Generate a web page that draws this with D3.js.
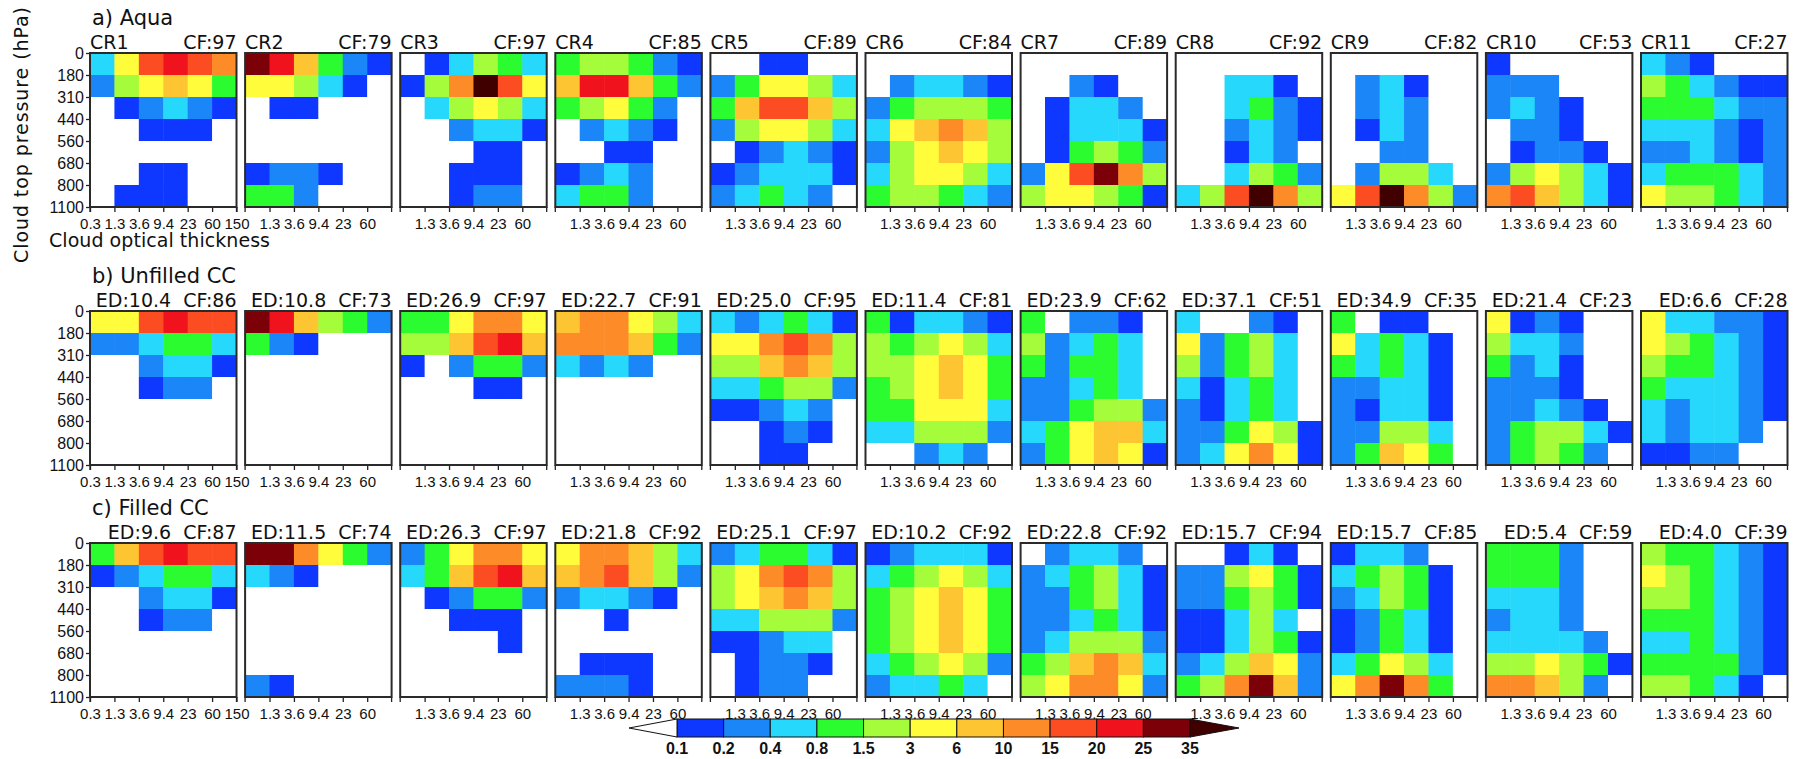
<!DOCTYPE html>
<html>
<head>
<meta charset="utf-8">
<script src="https://cdn.jsdelivr.net/npm/d3@7"></script>
<style>
  body { margin: 0; background: #fff; }
  text { font-family: "DejaVu Sans", sans-serif; fill: #111; }
  .xax .tick text { font-family: "Liberation Sans", sans-serif; font-size: 15px; }
  .yax .tick text { font-family: "Liberation Sans", sans-serif; font-size: 16px; }
</style>
</head>
<body>
<svg id="chart" width="1798" height="759"></svg>
<script>
// histogram bins
const tauLabels = ["0.3", "1.3", "3.6", "9.4", "23", "60", "150"];
const presLabels = ["0", "180", "310", "440", "560", "680", "800", "1100"];

// colour levels (%)
const levels = [0.1, 0.2, 0.4, 0.8, 1.5, 3, 6, 10, 15, 20, 25, 35];
const levelColors = ["#ffffff", "#0e37ff", "#1a86f7", "#26d9fc", "#2bfc2f", "#a4fc3b", "#fffc3c",
                     "#fec532", "#fd8b28", "#fb4c22", "#f0131d", "#7c0008", "#410000"];

// row a) Aqua : CR1..CR11, each 7 pressure rows (top to bottom) x 6 tau bins
const aquaCF = [97, 79, 97, 85, 89, 84, 89, 92, 82, 53, 27];
const aqua = [
  [[0.6,4,17,22,17,12],[0.3,2,4,8,4,1.1],[0,0.15,0.3,0.6,0.3,0.15],[0,0,0.15,0.15,0.15,0],[0,0,0,0,0,0],[0,0,0.15,0.15,0,0],[0,0.15,0.15,0.15,0,0]],
  [[30,22,8,1.1,0.3,0.15],[4,4,2,0.6,0.15,0],[0,0.15,0.15,0,0,0],[0,0,0,0,0,0],[0,0,0,0,0,0],[0.15,0.3,0.3,0.15,0,0],[1.1,1.1,0.3,0,0,0]],
  [[0,0.15,0.6,2,1.1,0.6],[0.15,2,12,40,17,4],[0,0.6,2,4,2,0.6],[0,0,0.3,0.6,0.6,0.15],[0,0,0,0.15,0.15,0],[0,0,0.15,0.15,0.15,0],[0,0,0.15,0.3,0.3,0]],
  [[1.1,2,2,1.1,0.3,0.15],[8,22,22,8,1.1,0.3],[1.1,2,4,1.1,0.3,0],[0,0.3,0.6,0.3,0.15,0],[0,0,0.15,0.15,0,0],[0.15,0.3,0.6,0.3,0,0],[0.6,1.1,1.1,0.3,0,0]],
  [[0,0,0.15,0.15,0,0],[0.3,1.1,4,4,2,0.6],[1.1,8,17,17,8,2],[0.3,2,4,4,2,0.6],[0,0.15,0.3,0.6,0.3,0.15],[0.15,0.3,0.6,0.6,0.6,0.15],[0.3,0.6,1.1,0.6,0.3,0]],
  [[0,0,0,0,0,0],[0,0.3,0.6,0.6,0.3,0.15],[0.3,1.1,2,2,2,1.1],[0.6,4,8,12,8,2],[0.3,2,4,8,4,2],[0.6,2,4,4,2,0.6],[1.1,2,2,1.1,0.6,0.3]],
  [[0,0,0,0,0,0],[0,0,0.3,0.15,0,0],[0,0.15,0.6,0.6,0.3,0],[0,0.15,0.6,0.6,0.6,0.15],[0,0.15,1.1,2,1.1,0.3],[0.3,4,17,30,12,2],[2,4,4,2,1.1,0.15]],
  [[0,0,0,0,0,0],[0,0,0.6,0.6,0.15,0],[0,0,0.6,1.1,0.3,0.15],[0,0,0.3,0.6,0.3,0.15],[0,0,0.15,0.6,0.3,0],[0,0,0.6,2,1.1,0.3],[0.6,2,17,40,12,2]],
  [[0,0,0,0,0,0],[0,0.3,0.6,0.15,0,0],[0,0.3,0.6,0.3,0,0],[0,0.15,0.6,0.3,0,0],[0,0,0.3,0.3,0,0],[0,0.3,2,2,0.6,0],[4,17,40,12,2,0.3]],
  [[0.15,0,0,0,0,0],[0.3,0.3,0.3,0,0,0],[0.3,0.6,0.3,0.15,0,0],[0,0.3,0.3,0.15,0,0],[0,0.15,0.3,0.3,0.15,0],[0.3,2,4,2,0.6,0.15],[12,17,8,2,0.6,0.15]],
  [[0.6,0.3,0.15,0,0,0],[2,1.1,0.6,0.3,0.15,0.15],[1.1,1.1,1.1,0.6,0.3,0.3],[0.6,0.6,0.6,0.3,0.15,0.3],[0.3,0.3,0.6,0.3,0.15,0.3],[0.6,1.1,1.1,1.1,0.6,0.3],[4,2,2,1.1,0.6,0.3]]
];

// row b) Unfilled CC
const unfilledED = [10.4, 10.8, 26.9, 22.7, 25.0, 11.4, 23.9, 37.1, 34.9, 21.4, 6.6];
const unfilledCF = [86, 73, 97, 91, 95, 81, 62, 51, 35, 23, 28];
const unfilled = [
  [[4,4,17,22,17,17],[0.3,0.3,0.6,1.1,1.1,0.6],[0,0,0.3,0.6,0.6,0.15],[0,0,0.15,0.3,0.3,0],[0,0,0,0,0,0],[0,0,0,0,0,0],[0,0,0,0,0,0]],
  [[30,22,8,2,1.1,0.3],[1.1,0.3,0.15,0,0,0],[0,0,0,0,0,0],[0,0,0,0,0,0],[0,0,0,0,0,0],[0,0,0,0,0,0],[0,0,0,0,0,0]],
  [[1.1,1.1,4,12,12,4],[2,2,8,17,22,8],[0.15,0,0.3,1.1,1.1,0.3],[0,0,0,0.15,0.15,0],[0,0,0,0,0,0],[0,0,0,0,0,0],[0,0,0,0,0,0]],
  [[8,12,12,4,2,0.6],[12,12,12,8,1.1,0.3],[0.6,0.3,0.6,0.3,0,0],[0,0,0,0,0,0],[0,0,0,0,0,0],[0,0,0,0,0,0],[0,0,0,0,0,0]],
  [[0.6,0.3,0.6,1.1,0.6,0.15],[4,4,12,17,12,2],[2,2,8,12,8,2],[0.6,0.6,1.1,2,2,0.3],[0.15,0.15,0.3,0.6,0.3,0],[0,0,0.15,0.3,0.15,0],[0,0,0.15,0.15,0,0]],
  [[1.1,0.15,0.6,0.6,0.3,0.15],[2,1.1,2,4,2,0.6],[2,2,4,8,4,1.1],[1.1,2,4,8,4,1.1],[1.1,1.1,4,4,4,0.6],[0.6,0.6,2,2,2,0.3],[0,0,0.3,0.6,0.3,0]],
  [[1.1,0,0.3,0.3,0.15,0],[2,0.3,0.6,1.1,0.6,0],[1.1,0.3,1.1,1.1,0.6,0],[0.3,0.3,0.6,1.1,0.6,0],[0.3,0.3,1.1,2,2,0.3],[0.6,1.1,4,8,8,0.6],[0.3,1.1,4,8,4,0.15]],
  [[0.6,0,0,0.3,0.15,0],[4,0.3,1.1,2,0.6,0],[2,0.3,1.1,2,0.6,0],[0.6,0.15,0.6,1.1,0.6,0],[0.3,0.15,0.6,1.1,0.6,0],[0.3,0.3,1.1,4,2,0.15],[0.3,0.6,4,12,4,0.15]],
  [[1.1,0,0.15,0.15,0,0],[4,0.6,1.1,0.6,0.15,0],[1.1,0.6,1.1,0.6,0.15,0],[0.3,0.3,0.6,0.6,0.15,0],[0.3,0.15,0.6,0.6,0.15,0],[0.3,0.3,2,2,0.6,0],[0.3,1.1,8,4,1.1,0]],
  [[4,0.15,0.3,0.15,0,0],[2,0.6,0.6,0.3,0,0],[1.1,0.3,0.6,0.15,0,0],[0.3,0.3,0.3,0.15,0,0],[0.3,0.3,0.6,0.3,0.15,0],[0.3,1.1,2,2,0.6,0.15],[0.3,1.1,2,1.1,0.3,0]],
  [[4,0.6,0.6,0.3,0.3,0.15],[4,2,1.1,0.6,0.3,0.15],[2,1.1,1.1,0.6,0.3,0.15],[1.1,0.6,0.6,0.6,0.3,0.15],[0.6,0.3,0.6,0.6,0.3,0.15],[0.6,0.3,0.6,0.6,0.3,0],[0.15,0.15,0.3,0.3,0,0]]
];

// row c) Filled CC
const filledED = [9.6, 11.5, 26.3, 21.8, 25.1, 10.2, 22.8, 15.7, 15.7, 5.4, 4.0];
const filledCF = [87, 74, 97, 92, 97, 92, 92, 94, 85, 59, 39];
const filled = [
  [[1.1,8,17,22,17,17],[0.15,0.3,0.6,1.1,1.1,0.6],[0,0,0.3,0.6,0.6,0.15],[0,0,0.15,0.3,0.3,0],[0,0,0,0,0,0],[0,0,0,0,0,0],[0,0,0,0,0,0]],
  [[30,30,12,4,1.1,0.3],[0.6,0.3,0.15,0,0,0],[0,0,0,0,0,0],[0,0,0,0,0,0],[0,0,0,0,0,0],[0,0,0,0,0,0],[0.3,0.15,0,0,0,0]],
  [[0.3,1.1,4,12,12,4],[0.6,1.1,8,17,22,8],[0,0.15,0.3,1.1,1.1,0.3],[0,0,0.15,0.15,0.15,0],[0,0,0,0,0.15,0],[0,0,0,0,0,0],[0,0,0,0,0,0]],
  [[4,12,12,8,2,0.6],[8,12,17,8,2,0.3],[0.3,0.6,0.6,0.3,0.15,0],[0,0,0.15,0,0,0],[0,0,0,0,0,0],[0,0.15,0.15,0.15,0,0],[0.3,0.3,0.3,0.15,0,0]],
  [[0.3,0.6,1.1,1.1,0.6,0.15],[2,4,12,17,12,2],[2,4,8,12,8,2],[0.6,0.6,2,2,2,0.3],[0.15,0.15,0.3,0.6,0.6,0],[0,0.15,0.3,0.3,0.15,0],[0,0.15,0.3,0.3,0,0]],
  [[0.15,0.3,0.6,0.6,0.6,0.15],[0.6,1.1,2,4,2,0.6],[1.1,2,4,8,4,1.1],[1.1,2,4,8,4,1.1],[1.1,2,4,8,4,1.1],[0.6,1.1,2,4,2,0.3],[0.3,0.6,0.6,1.1,0.6,0]],
  [[0,0.3,0.6,0.6,0.3,0],[0.3,0.6,1.1,2,0.6,0.15],[0.3,0.3,1.1,2,0.6,0.15],[0.3,0.3,0.6,1.1,0.6,0.15],[0.3,0.6,2,2,2,0.3],[1.1,2,8,12,8,0.6],[2,4,12,12,4,0.3]],
  [[0,0,0.15,0.6,0.15,0],[0.3,0.3,2,4,1.1,0.15],[0.3,0.3,1.1,2,1.1,0.15],[0.15,0.15,0.6,2,0.6,0],[0.15,0.15,0.6,2,1.1,0.15],[0.3,0.6,2,8,4,0.3],[1.1,2,12,30,8,0.3]],
  [[0.15,0.6,0.6,0.3,0,0],[0.6,1.1,2,1.1,0.15,0],[0.3,0.6,2,1.1,0.15,0],[0.15,0.3,1.1,0.6,0.15,0],[0.15,0.3,1.1,0.6,0.15,0],[0.6,1.1,4,2,0.6,0],[4,12,30,12,1.1,0]],
  [[1.1,1.1,1.1,0.3,0,0],[1.1,1.1,1.1,0.3,0,0],[0.6,0.6,0.6,0.3,0,0],[0.3,0.6,0.6,0.3,0,0],[0.6,0.6,0.6,0.6,0.3,0],[2,2,4,2,1.1,0.15],[12,12,8,2,0.3,0]],
  [[2,1.1,1.1,0.6,0.3,0.15],[4,2,1.1,0.6,0.3,0.15],[2,2,1.1,0.6,0.3,0.15],[1.1,1.1,1.1,0.6,0.3,0.15],[0.6,0.6,1.1,0.6,0.3,0.15],[1.1,1.1,1.1,1.1,0.3,0.15],[2,2,1.1,0.6,0.15,0]]
];


const svg = d3.select("#chart");
const color = d3.scaleThreshold().domain(levels).range(levelColors);

const panelW = 146.5, panelH = 154;
const panelX = d3.scaleLinear().domain([0, 10]).range([90, 1641]);

const xCell = d3.scaleBand().domain(d3.range(6)).range([0, panelW]);
const yCell = d3.scaleBand().domain(d3.range(7)).range([0, panelH]);
const xEdge = d3.scaleLinear().domain([0, 6]).range([0, panelW]);
const yEdge = d3.scaleLinear().domain([0, 7]).range([0, panelH]);

const rows = [
  { title: "a) Aqua", top: 53, data: aqua,
    left: (i) => "CR" + (i + 1), right: (i) => "CF:" + aquaCF[i] },
  { title: "b) Unfilled CC", top: 311, data: unfilled,
    left: () => "", right: (i) => "ED:" + unfilledED[i].toFixed(1) + "  CF:" + unfilledCF[i] },
  { title: "c) Filled CC", top: 543, data: filled,
    left: () => "", right: (i) => "ED:" + filledED[i].toFixed(1) + "  CF:" + filledCF[i] }
];

rows.forEach(row => {
  svg.append("text")
    .attr("x", 92)
    .attr("y", row.top - 28)
    .attr("font-size", "21px")
    .text(row.title);

  row.data.forEach((panel, i) => {
    const g = svg.append("g")
      .attr("transform", `translate(${panelX(i)},${row.top})`);

    const cells = [];
    panel.forEach((r, ri) => r.forEach((v, ci) => cells.push({ r: ri, c: ci, v: v })));

    g.selectAll("rect.cell")
      .data(cells)
      .enter()
      .append("rect")
        .attr("class", "cell")
        .attr("x", d => xCell(d.c))
        .attr("y", d => yCell(d.r))
        .attr("width", xCell.bandwidth() + 0.5)
        .attr("height", yCell.bandwidth() + 0.5)
        .attr("fill", d => color(d.v));

    // bottom axis
    const xAxis = d3.axisBottom(xEdge)
      .tickValues(i == 0 ? d3.range(7) : d3.range(1, 6))
      .tickFormat(d => tauLabels[d])
      .tickSizeInner(5)
      .tickSizeOuter(0);
    const xa = g.append("g")
      .attr("class", "xax")
      .attr("transform", `translate(0,${panelH})`)
      .call(xAxis);
    xa.select(".domain").remove();
    xa.selectAll("line").attr("stroke", "#222").attr("stroke-width", 1.3);
    xa.selectAll("text").attr("dy", "0.9em");

    // end ticks without labels
    g.selectAll("line.endtick")
      .data([0, 6])
      .enter()
      .append("line")
        .attr("x1", d => xEdge(d)).attr("x2", d => xEdge(d))
        .attr("y1", panelH).attr("y2", panelH + 5)
        .attr("stroke", "#222").attr("stroke-width", 1.3);

    if (i == 0) {
      const yAxis = d3.axisLeft(yEdge)
        .tickValues(d3.range(8))
        .tickFormat(d => presLabels[d])
        .tickSizeInner(4)
        .tickSizeOuter(0);
      const ya = g.append("g").attr("class", "yax").call(yAxis);
      ya.select(".domain").remove();
      ya.selectAll("line").attr("stroke", "#222").attr("stroke-width", 1.3);
      ya.selectAll("text").attr("x", -6);
    }

    g.append("rect")
      .attr("width", panelW)
      .attr("height", panelH)
      .attr("fill", "none")
      .attr("stroke", "#2a2a2a")
      .attr("stroke-width", 2);

    g.append("text")
      .attr("x", 0)
      .attr("y", -4)
      .attr("font-size", "19px")
      .text(row.left(i));

    g.append("text")
      .attr("x", panelW)
      .attr("y", -4)
      .attr("text-anchor", "end")
      .attr("font-size", "19px")
      .style("white-space", "pre")
      .text(row.right(i));
  });
});

// axis titles
svg.append("text")
  .attr("transform", "translate(28,135) rotate(-90)")
  .attr("text-anchor", "middle")
  .attr("font-size", "19px")
  .attr("textLength", 256)
  .attr("lengthAdjust", "spacing")
  .text("Cloud top pressure (hPa)");

svg.append("text")
  .attr("x", 49)
  .attr("y", 247)
  .attr("font-size", "19px")
  .attr("textLength", 221)
  .attr("lengthAdjust", "spacing")
  .text("Cloud optical thickness");

// colour bar
const cbX = d3.scaleLinear().domain([0, levels.length - 1]).range([677, 1190]);
const cbTop = 719, cbH = 18;
const cb = svg.append("g");

cb.selectAll("rect")
  .data(d3.range(levels.length - 1))
  .enter()
  .append("rect")
    .attr("x", d => cbX(d))
    .attr("y", cbTop)
    .attr("width", d => cbX(d + 1) - cbX(d))
    .attr("height", cbH)
    .attr("fill", d => color((levels[d] + levels[d + 1]) / 2))
    .attr("stroke", "#111")
    .attr("stroke-width", 1);

cb.append("path")
  .attr("d", `M${cbX(0)},${cbTop} L629,${cbTop + cbH / 2} L${cbX(0)},${cbTop + cbH} Z`)
  .attr("fill", color(0))
  .attr("stroke", "#111");

cb.append("path")
  .attr("d", `M${cbX(11)},${cbTop} L1239,${cbTop + cbH / 2} L${cbX(11)},${cbTop + cbH} Z`)
  .attr("fill", color(50))
  .attr("stroke", "#111");

cb.selectAll("text")
  .data(levels)
  .enter()
  .append("text")
    .attr("x", (d, i) => cbX(i))
    .attr("y", 754)
    .attr("text-anchor", "middle")
    .attr("font-size", "16px")
    .attr("font-weight", "bold")
    .style("font-family", "'Liberation Sans', sans-serif")
    .text(d => d);
</script>
</body>
</html>
